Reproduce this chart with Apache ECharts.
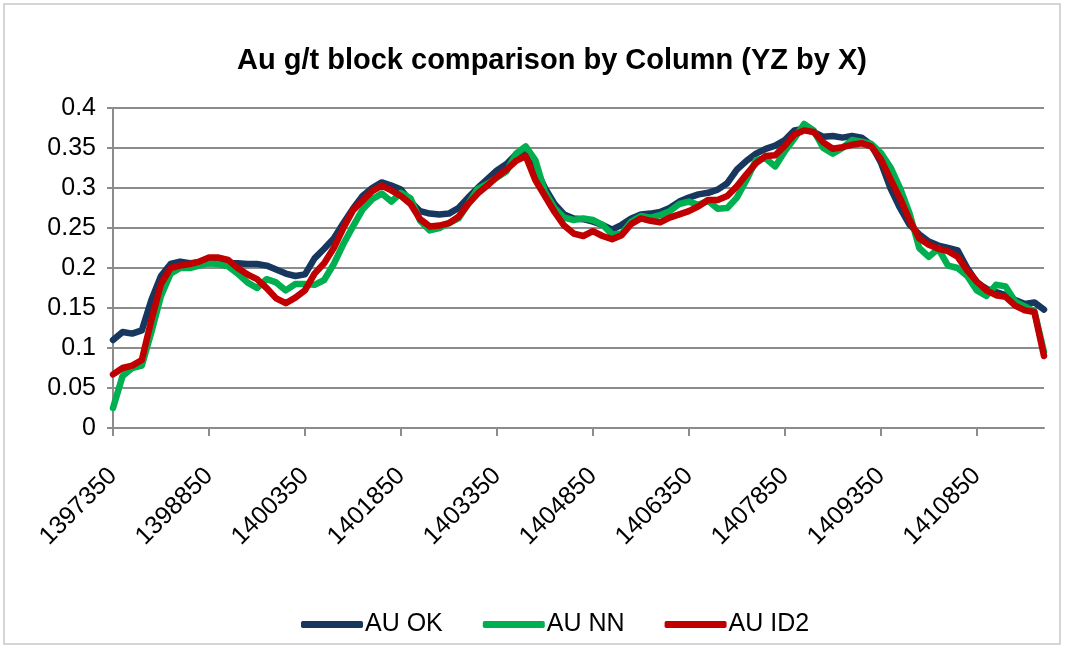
<!DOCTYPE html>
<html>
<head>
<meta charset="utf-8">
<title>Au g/t block comparison by Column</title>
<script src="https://cdn.jsdelivr.net/npm/echarts@6/dist/echarts.min.js"></script>
<style>
  html, body { margin: 0; padding: 0; background: #ffffff; }
  #chart { width: 1065px; height: 649px; }
</style>
</head>
<body>
<div id="chart"></div>
<script>
// Column easting, in metres: one sample every 150 m from 1397350 to 1411900
const xStart = 1397350;
const xStep = 150;
const pointCount = 98;
const categories = [];
for (let i = 0; i < pointCount; i++) categories.push(String(xStart + i * xStep));

// Average gold grade (g/t) per column, three estimation methods
const auOK = [
  0.110, 0.120, 0.118, 0.122, 0.160, 0.190, 0.205, 0.208, 0.206, 0.207,
  0.206, 0.207, 0.206, 0.206, 0.205, 0.205, 0.203, 0.198, 0.193, 0.190,
  0.192, 0.212, 0.224, 0.237, 0.256, 0.274, 0.290, 0.300, 0.307, 0.303,
  0.298, 0.283, 0.271, 0.268, 0.267, 0.268, 0.275, 0.288, 0.300, 0.311,
  0.322, 0.330, 0.342, 0.345, 0.325, 0.300, 0.280, 0.267, 0.262, 0.261,
  0.258, 0.254, 0.248, 0.254, 0.262, 0.267, 0.268, 0.270, 0.275, 0.283,
  0.288, 0.292, 0.294, 0.298, 0.306, 0.323, 0.334, 0.343, 0.349, 0.353,
  0.360, 0.372, 0.374, 0.370, 0.364, 0.365, 0.363, 0.365, 0.363, 0.354,
  0.332, 0.300, 0.275, 0.254, 0.242, 0.233, 0.228, 0.225, 0.222, 0.200,
  0.182, 0.174, 0.170, 0.166, 0.160, 0.155, 0.157, 0.148
];
const auNN = [
  0.025, 0.065, 0.075, 0.078, 0.120, 0.165, 0.193, 0.200, 0.200, 0.203,
  0.206, 0.205, 0.202, 0.193, 0.182, 0.175, 0.186, 0.182, 0.172, 0.180,
  0.180, 0.179, 0.185, 0.205, 0.230, 0.252, 0.273, 0.286, 0.293, 0.283,
  0.294, 0.287, 0.259, 0.247, 0.250, 0.256, 0.262, 0.280, 0.299, 0.305,
  0.313, 0.321, 0.343, 0.352, 0.335, 0.295, 0.275, 0.263, 0.260, 0.262,
  0.260, 0.254, 0.242, 0.243, 0.258, 0.265, 0.263, 0.266, 0.271, 0.280,
  0.283, 0.279, 0.284, 0.274, 0.275, 0.288, 0.310, 0.335, 0.337, 0.327,
  0.346, 0.362, 0.380, 0.372, 0.350, 0.343, 0.350, 0.360, 0.358, 0.355,
  0.344, 0.326, 0.300, 0.268, 0.225, 0.214, 0.224, 0.203, 0.200, 0.190,
  0.172, 0.165, 0.179, 0.177, 0.158, 0.152, 0.146, 0.095
];
const auID2 = [
  0.067, 0.075, 0.078, 0.085, 0.135, 0.180, 0.200, 0.203, 0.205, 0.208,
  0.213, 0.213, 0.210, 0.200, 0.192, 0.186, 0.175, 0.162, 0.156, 0.163,
  0.172, 0.193, 0.206, 0.225, 0.250, 0.272, 0.284, 0.296, 0.303, 0.297,
  0.290, 0.280, 0.261, 0.252, 0.253, 0.256, 0.264, 0.280, 0.293, 0.303,
  0.314, 0.323, 0.334, 0.340, 0.310, 0.290, 0.270, 0.253, 0.243, 0.240,
  0.246, 0.240, 0.236, 0.241, 0.255, 0.262, 0.259, 0.257, 0.263, 0.267,
  0.271, 0.277, 0.285, 0.285, 0.290, 0.302, 0.317, 0.331, 0.340, 0.341,
  0.353, 0.367, 0.372, 0.370, 0.357, 0.349, 0.351, 0.354, 0.356, 0.352,
  0.336, 0.311, 0.287, 0.260, 0.237, 0.229, 0.224, 0.221, 0.214, 0.197,
  0.183, 0.172, 0.166, 0.164, 0.153, 0.147, 0.145, 0.090
];

const seriesNames = ['AU OK', 'AU NN', 'AU ID2'];
const seriesColors = ['#17375E', '#00B050', '#C00000'];
const seriesData = [auOK, auNN, auID2];

const FONT = '"Liberation Sans", "DejaVu Sans", sans-serif';
const GRID = '#8C8C8C';

const chart = echarts.init(document.getElementById('chart'), null, { renderer: 'canvas' });

chart.setOption({
  backgroundColor: '#ffffff',
  animation: false,
  title: {
    text: 'Au g/t block comparison by Column (YZ by X)',
    left: 232,
    top: 38,
    textStyle: {
      fontFamily: FONT,
      fontSize: 29,
      fontWeight: 'bold',
      color: '#000000',
      lineHeight: 36
    }
  },
  legend: {
    data: seriesNames,
    top: 607,
    left: 296,
    icon: 'roundRect',
    itemWidth: 62,
    itemHeight: 7,
    itemGap: 40,
    textStyle: {
      fontFamily: FONT,
      fontSize: 25,
      color: '#000000',
      padding: [0, 0, 0, -3]
    }
  },
  grid: {
    left: 113,
    right: 21,
    top: 108,
    bottom: 221,
    containLabel: false
  },
  xAxis: {
    type: 'category',
    data: categories,
    boundaryGap: false,
    axisLine: { show: true, lineStyle: { color: GRID, width: 2 } },
    axisTick: { show: true, interval: 9, length: 8, lineStyle: { color: GRID, width: 2 } },
    axisLabel: {
      interval: 9,
      rotate: 45,
      margin: 44,
      fontFamily: FONT,
      fontSize: 25,
      color: '#000000'
    },
    splitLine: { show: false }
  },
  yAxis: {
    type: 'value',
    min: 0,
    max: 0.4,
    interval: 0.05,
    axisLine: { show: true, lineStyle: { color: GRID, width: 2 } },
    axisTick: { show: true, length: 6, lineStyle: { color: GRID, width: 2 } },
    axisLabel: {
      margin: 17,
      fontFamily: FONT,
      fontSize: 25,
      color: '#000000'
    },
    splitLine: { show: true, lineStyle: { color: GRID, width: 2 } }
  },
  series: seriesNames.map((name, k) => ({
    name: name,
    type: 'line',
    data: seriesData[k],
    showSymbol: false,
    symbol: 'none',
    smooth: false,
    color: seriesColors[k],
    lineStyle: { color: seriesColors[k], width: 6.5, cap: 'round', join: 'round' },
    z: 2 + k
  })),
  graphic: [{
    type: 'rect',
    shape: { x: 4, y: 4, width: 1056, height: 640 },
    style: { fill: null, stroke: '#C8C8C8', lineWidth: 1.5 },
    silent: true
  }]
});
</script>
</body>
</html>
